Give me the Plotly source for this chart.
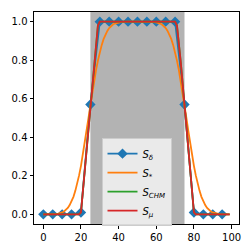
import plotly.graph_objects as go

x_fine = list(range(100))
x_delta = list(range(0, 100, 5))
s_delta = [0, 0, 0, 0, 0.01, 0.57, 1, 1, 1, 1, 1, 1, 1, 1, 1, 0.57, 0.01, 0, 0, 0]
s_star = [0, 0, 0, 0, 0, 0, 0.001, 0.002, 0.004, 0.006, 0.010, 0.015, 0.023, 0.033, 0.048,
          0.067, 0.091, 0.122, 0.159, 0.202, 0.252, 0.309, 0.369, 0.434, 0.5, 0.566, 0.631,
          0.691, 0.748, 0.798, 0.841, 0.878, 0.909, 0.933, 0.952, 0.967, 0.977, 0.985, 0.990,
          0.994, 0.996, 0.998, 0.999,
          1, 1, 1, 1, 1, 1, 1, 1, 1, 1, 1, 1, 1, 1, 1,
          0.999, 0.998, 0.996, 0.994, 0.990, 0.985, 0.977, 0.967, 0.952, 0.933, 0.909, 0.878,
          0.841, 0.798, 0.748, 0.691, 0.631, 0.566, 0.5, 0.434, 0.369, 0.309, 0.252, 0.202,
          0.159, 0.122, 0.091, 0.067, 0.048, 0.033, 0.023, 0.015, 0.010, 0.006, 0.004, 0.002,
          0.001, 0, 0, 0, 0, 0]
s_mu = ([0] * 20 + [0.01, 0.12, 0.23, 0.34, 0.46, 0.57, 0.68, 0.79, 0.90, 0.98] + [1] * 41
        + [0.98, 0.90, 0.79, 0.68, 0.57, 0.46, 0.34, 0.23, 0.12, 0.01] + [0] * 19)
s_chm = list(s_mu)
band = [25, 75]

fig = go.Figure()
fig.add_shape(type="rect", x0=band[0], x1=band[1], xref="x", yref="paper", y0=0, y1=1,
              fillcolor="#b3b3b3", line_width=0, layer="below")
fig.add_trace(go.Scatter(x=x_delta, y=s_delta, mode="lines+markers", name="<i>S<sub>δ</sub></i>",
                         line=dict(color="#1f77b4", width=1.8),
                         marker=dict(symbol="diamond", size=8, color="#1f77b4")))
fig.add_trace(go.Scatter(x=x_fine, y=s_star, mode="lines", name="<i>S<sub>*</sub></i>",
                         line=dict(color="#ff7f0e", width=1.8)))
fig.add_trace(go.Scatter(x=x_fine, y=s_chm, mode="lines", name="<i>S<sub>CHM</sub></i>",
                         line=dict(color="#2ca02c", width=1.8)))
fig.add_trace(go.Scatter(x=x_fine, y=s_mu, mode="lines", name="<i>S<sub>μ</sub></i>",
                         line=dict(color="#d62728", width=1.8)))

axis_common = dict(showgrid=False, zeroline=False, showline=True, linecolor="black", linewidth=1,
                   mirror=True, ticks="outside", ticklen=3.5, tickwidth=1, tickcolor="black",
                   automargin=False,
                   tickfont=dict(family="DejaVu Sans", size=10, color="black"))
fig.update_xaxes(range=[-4.95, 103.95], tickvals=[0, 20, 40, 60, 80, 100], **axis_common)
fig.update_yaxes(range=[-0.05, 1.05], tickvals=[0, 0.2, 0.4, 0.6, 0.8, 1.0], tickformat=".1f",
                 **axis_common)
fig.update_layout(
    width=252, height=252,
    margin=dict(l=34, r=13, t=12, b=28, autoexpand=False),
    plot_bgcolor="white", paper_bgcolor="white",
    font=dict(family="DejaVu Sans", size=10, color="black"),
    legend=dict(x=0.5, y=0.405, xanchor="center", yanchor="top",
                bgcolor="rgba(240,240,240,0.9)", bordercolor="#cccccc", borderwidth=1,
                font=dict(size=10), itemwidth=30),
    showlegend=True,
)
fig.write_html("out.html", config={"displayModeBar": False},
               post_script="document.body.style.margin='0';document.body.style.overflow='hidden';")
